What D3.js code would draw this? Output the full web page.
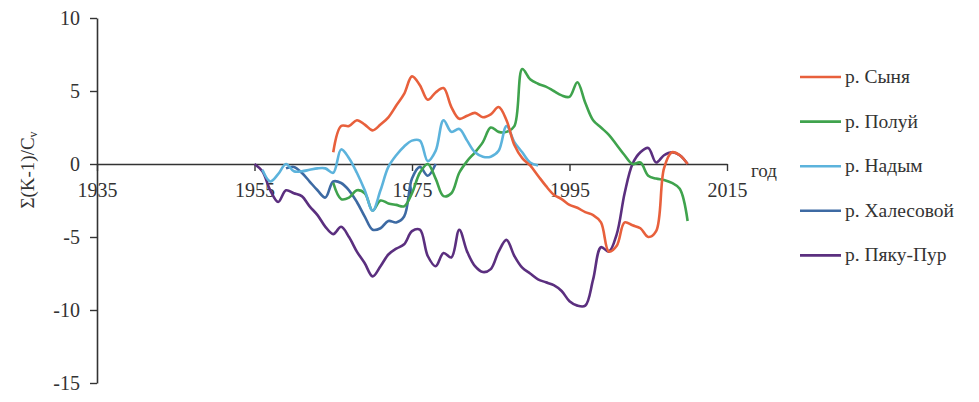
<!DOCTYPE html>
<html>
<head>
<meta charset="utf-8">
<script src="https://cdn.jsdelivr.net/npm/d3@7"></script>
<style>
  html, body { margin: 0; padding: 0; background: #fff; }
  svg text { font-family: "Liberation Serif", "Times New Roman", serif; fill: #333; }
</style>
</head>
<body>
<svg id="chart" width="979" height="402"></svg>
<script>
// Cumulative sums of modular coefficients, Σ(K-1)/Cv, by year
const xTicks = [1935, 1955, 1975, 1995, 2015];
const yTicks = [10, 5, 0, -5, -10, -15];

const synyaStart = 1965;
const synya = [0.8, 2.6, 2.6, 3.0, 2.7, 2.3, 2.7, 3.2, 4.0, 4.8,
  6.0, 5.4, 4.4, 4.9, 5.2, 3.9, 3.1, 3.3, 3.5, 3.2,
  3.4, 3.9, 3.0, 1.3, 0.4, -0.1, -0.8, -1.5, -2.1, -2.4,
  -2.8, -3.0, -3.3, -3.5, -4.0, -6.0, -5.6, -4.0, -4.2, -4.4,
  -5.0, -4.6, -0.3, 0.8, 0.6, 0.0];

const poluyStart = 1965;
const poluy = [-1.3, -2.4, -2.3, -1.8, -2.0, -3.2, -2.5, -2.7, -2.8, -2.9,
  -2.0, -0.6, 0.0, -1.0, -2.2, -2.0, -0.6, 0.2, 0.8, 1.5,
  2.5, 2.2, 2.2, 2.6, 6.5, 5.8, 5.5, 5.3, 5.0, 4.7,
  4.6, 5.6, 4.2, 3.0, 2.5, 2.0, 1.3, 0.6, 0.0, 0.1,
  -0.8, -1.0, -1.1, -1.3, -1.7, -3.9];

const nadymStart = 1956;
const nadym = [-0.4, -1.2, -0.7, 0.0, -0.5, -0.5, -0.4, -0.3, -0.3, -0.6,
  1.0, 0.4, -0.6, -1.8, -3.2, -1.8, -0.2, 0.6, 1.2, 1.6,
  1.6, 0.2, 0.9, 3.0, 2.2, 2.4, 1.6, 0.8, 0.5, 0.5,
  0.9, 2.6, 1.5, 0.8, 0.1, -0.1];

const khalesStart = 1959;
const khales = [-0.3, -0.2, -0.6, -1.2, -1.8, -2.3, -1.2, -1.3, -1.8, -2.6,
  -3.6, -4.5, -4.4, -3.9, -4.0, -3.6, -1.0, -0.2, -0.8, 0.0];

const pyakuStart = 1955;
const pyaku = [0.0, -0.5, -1.8, -2.6, -1.8, -2.0, -2.2, -2.9, -3.5, -4.3,
  -4.8, -4.3, -5.0, -6.0, -6.8, -7.7, -7.0, -6.2, -5.8, -5.5,
  -4.6, -4.5, -6.3, -7.0, -6.1, -6.4, -4.5, -6.0, -7.0, -7.4,
  -7.2, -6.0, -5.2, -6.3, -7.1, -7.5, -7.9, -8.1, -8.3, -8.7,
  -9.4, -9.7, -9.7, -7.9, -5.7, -6.0, -4.8, -2.0, 0.0, 0.8,
  1.1, 0.1, 0.6, 0.8, 0.6, 0.0];

const seriesNames = ["р. Сыня", "р. Полуй", "р. Надым", "р. Халесовой", "р. Пяку-Пур"];
const seriesColors = ["#e8603c", "#3fa34d", "#5cb3dc", "#3d6aa3", "#5b2f7f"];
const seriesData = [
  [synyaStart, synya], [poluyStart, poluy], [nadymStart, nadym],
  [khalesStart, khales], [pyakuStart, pyaku]
];

const svg = d3.select("#chart");

const x = d3.scaleLinear().domain([1935, 2015]).range([97, 727]);
const y = d3.scaleLinear().domain([-15, 10]).range([383, 18]);

const axisColor = "#333";
const labelSize = 20;

// y axis (left), ticks pointing outward
const yAxis = svg.append("g")
  .attr("transform", `translate(${x(1935)},0)`)
  .call(d3.axisLeft(y).tickValues(yTicks).tickFormat(d => String(d))
    .tickSize(7).tickPadding(10).tickSizeOuter(0));
yAxis.select(".domain").attr("stroke", axisColor).attr("stroke-width", 1.6);
yAxis.selectAll(".tick line").attr("stroke", axisColor).attr("stroke-width", 1.4);
yAxis.selectAll(".tick text")
  .attr("font-size", labelSize)
  .attr("fill", "#333")
  .attr("font-family", "Liberation Serif, serif");

// x axis along zero line, ticks pointing down
const xAxis = svg.append("g")
  .attr("transform", `translate(0,${y(0)})`)
  .call(d3.axisBottom(x).tickValues(xTicks).tickFormat(d3.format("d"))
    .tickSize(7).tickPadding(12).tickSizeOuter(0));
xAxis.select(".domain").attr("stroke", axisColor).attr("stroke-width", 1.6);
xAxis.selectAll(".tick line").attr("stroke", axisColor).attr("stroke-width", 1.4);
xAxis.selectAll(".tick text")
  .attr("font-size", labelSize)
  .attr("fill", "#333")
  .attr("font-family", "Liberation Serif, serif");

// axis titles
svg.append("text")
  .attr("x", 751).attr("y", 177)
  .attr("font-size", 19)
  .text("год");

const yTitle = svg.append("text")
  .attr("transform", "translate(34,170) rotate(-90)")
  .attr("text-anchor", "middle")
  .attr("font-size", 19);
yTitle.append("tspan").text("Σ(K-1)/C");
yTitle.append("tspan").attr("font-size", 12).attr("dy", 3).text("v");

// series lines
const line = d3.line()
  .x(d => x(d[0]))
  .y(d => y(d[1]))
  .curve(d3.curveCatmullRom.alpha(0.5));

const order = [4, 3, 1, 2, 0];
order.forEach(i => {
  const [start, vals] = seriesData[i];
  const pts = vals.map((v, k) => [start + k, v]);
  svg.append("path")
    .datum(pts)
    .attr("fill", "none")
    .attr("stroke", seriesColors[i])
    .attr("stroke-width", 2.6)
    .attr("stroke-linejoin", "round")
    .attr("d", line);
});

// legend
const legend = svg.append("g");
seriesNames.forEach((name, i) => {
  const ly = 77 + i * 44.6;
  legend.append("line")
    .attr("x1", 800).attr("x2", 841)
    .attr("y1", ly).attr("y2", ly)
    .attr("stroke", seriesColors[i]).attr("stroke-width", 2.6);
  legend.append("text")
    .attr("x", 845).attr("y", ly + 6)
    .attr("font-size", 19.5)
    .text(name);
});
</script>
</body>
</html>
